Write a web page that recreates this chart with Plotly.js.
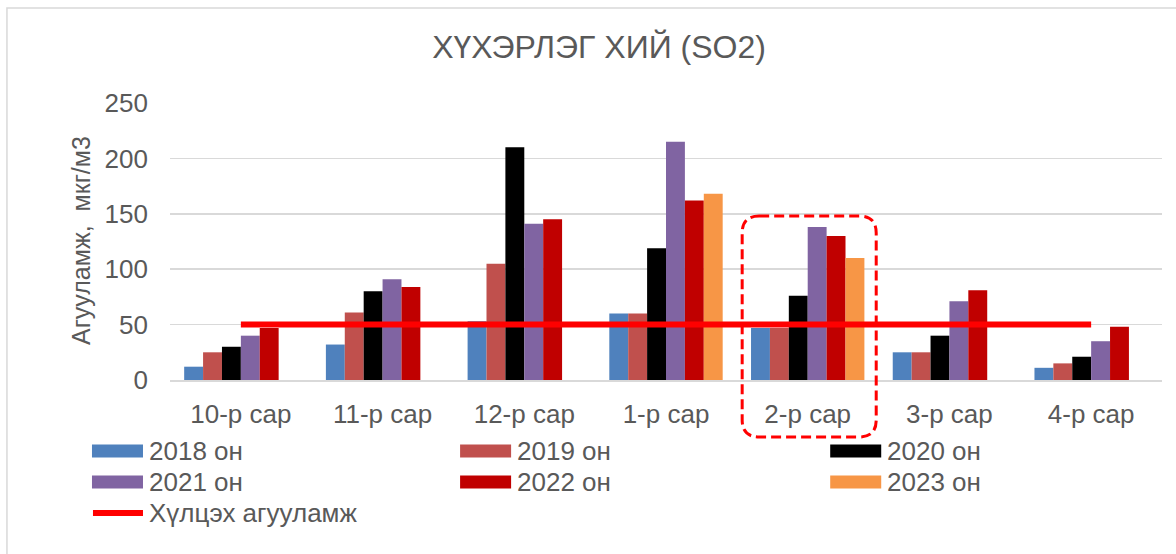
<!DOCTYPE html>
<html>
<head>
<meta charset="utf-8">
<script src="https://cdn.plot.ly/plotly-3.0.1.min.js"></script>
<style>html,body{margin:0;padding:0;background:#fff;}#chart{width:1176px;height:554px;}</style>
</head>
<body>
<div id="chart"></div>
<script>
// ---- data ----
var months = ['10-р сар','11-р сар','12-р сар','1-р сар','2-р сар','3-р сар','4-р сар'];
var seriesNames = ['2018 он','2019 он','2020 он','2021 он','2022 он','2023 он'];
var y2018 = [12, 32, 53, 60, 47, 25, 11];
var y2019 = [25, 61, 105, 60, 47, 25, 15];
var y2020 = [30, 80, 210, 119, 76, 40, 21];
var y2021 = [40, 91, 141, 215, 138, 71, 35];
var y2022 = [47, 84, 145, 162, 130, 81, 48];
var y2023 = [null, null, null, 168, 110, null, null];
var limitName = 'Хүлцэх агууламж';
var limitValues = [50, 50, 50, 50, 50, 50, 50];
var yTicks = [0, 50, 100, 150, 200, 250];
var colors = ['#4F81BD','#C0504D','#000000','#8064A2','#C00000','#F79646'];
var limitColor = '#FF0000';

// ---- layout geometry (pixels) ----
var W = 1176, H = 554;
var PL = 170, PR = 1161.7, PT = 103, PB = 380;
function px(x){ return (x - PL) / (PR - PL); }
function py(y){ return (PB - y) / (PB - PT); }

var seriesData = [y2018, y2019, y2020, y2021, y2022, y2023];
var traces = seriesData.map(function(d, i){
  return {type:'bar', name:seriesNames[i], x:months, y:d,
    marker:{color:colors[i], line:{width:0}}, showlegend:false, hoverinfo:'x+y+name'};
});
traces.push({type:'scatter', mode:'lines', name:limitName, x:months, y:limitValues,
  line:{color:limitColor, width:6}, showlegend:false});

var textColor = '#595959';
var font = 'Liberation Sans, Arial, sans-serif';

// custom legend
var shapes = [];
var annotations = [];
var colX = [92, 460, 830];
var rowY = [451, 482, 513];
var legendItems = seriesNames.map(function(n,i){ return {name:n, color:colors[i], kind:'bar'}; });
legendItems.push({name:limitName, color:limitColor, kind:'line'});
legendItems.forEach(function(it, k){
  var c = k % 3, r = Math.floor(k / 3);
  var x0 = colX[c], yc = rowY[r];
  if (it.kind === 'bar') {
    shapes.push({type:'rect', xref:'paper', yref:'paper', x0:px(x0), x1:px(x0+51),
      y0:py(yc+6.5), y1:py(yc-6.5), fillcolor:it.color, line:{width:0}, layer:'above'});
  } else {
    shapes.push({type:'line', xref:'paper', yref:'paper', x0:px(x0+1), x1:px(x0+51),
      y0:py(yc), y1:py(yc), line:{color:it.color, width:6}, layer:'above'});
  }
  annotations.push({xref:'paper', yref:'paper', x:px(x0+55), y:py(yc), xanchor:'left', yanchor:'middle',
    text:it.name, showarrow:false, font:{family:font, size:26, color:textColor}});
});

// y-axis title
annotations.push({xref:'paper', yref:'paper', x:px(81), y:py(240), xanchor:'center', yanchor:'middle',
  textangle:-90, text:'Агууламж,  мкг/м3', showarrow:false, font:{family:font, size:25, color:textColor}});

// dashed rounded highlight box around 2-р сар
(function(){
  var L = px(742), R = px(876), T = py(216), B = py(437);
  var rx = 17/(PR-PL), ry = 17/(PB-PT);
  var p = 'M '+(L+rx)+','+T+' L '+(R-rx)+','+T+' Q '+R+','+T+' '+R+','+(T-ry)+
          ' L '+R+','+(B+ry)+' Q '+R+','+B+' '+(R-rx)+','+B+
          ' L '+(L+rx)+','+B+' Q '+L+','+B+' '+L+','+(B+ry)+
          ' L '+L+','+(T-ry)+' Q '+L+','+T+' '+(L+rx)+','+T+' Z';
  shapes.push({type:'path', xref:'paper', yref:'paper', path:p,
    line:{color:'#FF0000', width:3, dash:'10px,5px'}, layer:'above'});
})();

// outer chart border (top/left visible)
shapes.push({type:'rect', xref:'paper', yref:'paper', x0:px(7), x1:px(1200), y0:py(8), y1:py(580),
  line:{color:'#D9D9D9', width:1.5}, fillcolor:'rgba(0,0,0,0)', layer:'below'});

var layout = {
  width:W, height:H,
  margin:{l:PL, r:W-PR, t:PT, b:H-PB, pad:0},
  paper_bgcolor:'#ffffff', plot_bgcolor:'#ffffff',
  font:{family:font, color:textColor},
  title:{text:'ХҮХЭРЛЭГ ХИЙ (SO2)', x:599/W, xanchor:'center', xref:'container',
    y:1-47/H, yanchor:'middle', yref:'container', font:{family:font, size:32, color:textColor}},
  barmode:'group', bargap:0.2, bargroupgap:0,
  showlegend:false,
  xaxis:{type:'category', showgrid:false, showline:true, linecolor:'#D9D9D9', linewidth:1.5,
    ticks:'', tickfont:{family:font, size:26, color:textColor}, ticklabelstandoff:10, fixedrange:true},
  yaxis:{range:[0,250], tickvals:yTicks, showgrid:true, gridcolor:'#D9D9D9', gridwidth:1.5,
    zeroline:false, showline:false, ticks:'', tickfont:{family:font, size:26, color:textColor},
    ticklabelstandoff:21, fixedrange:true},
  shapes:shapes,
  annotations:annotations
};
Plotly.newPlot('chart', traces, layout, {displayModeBar:false, staticPlot:true});
</script>
</body>
</html>
